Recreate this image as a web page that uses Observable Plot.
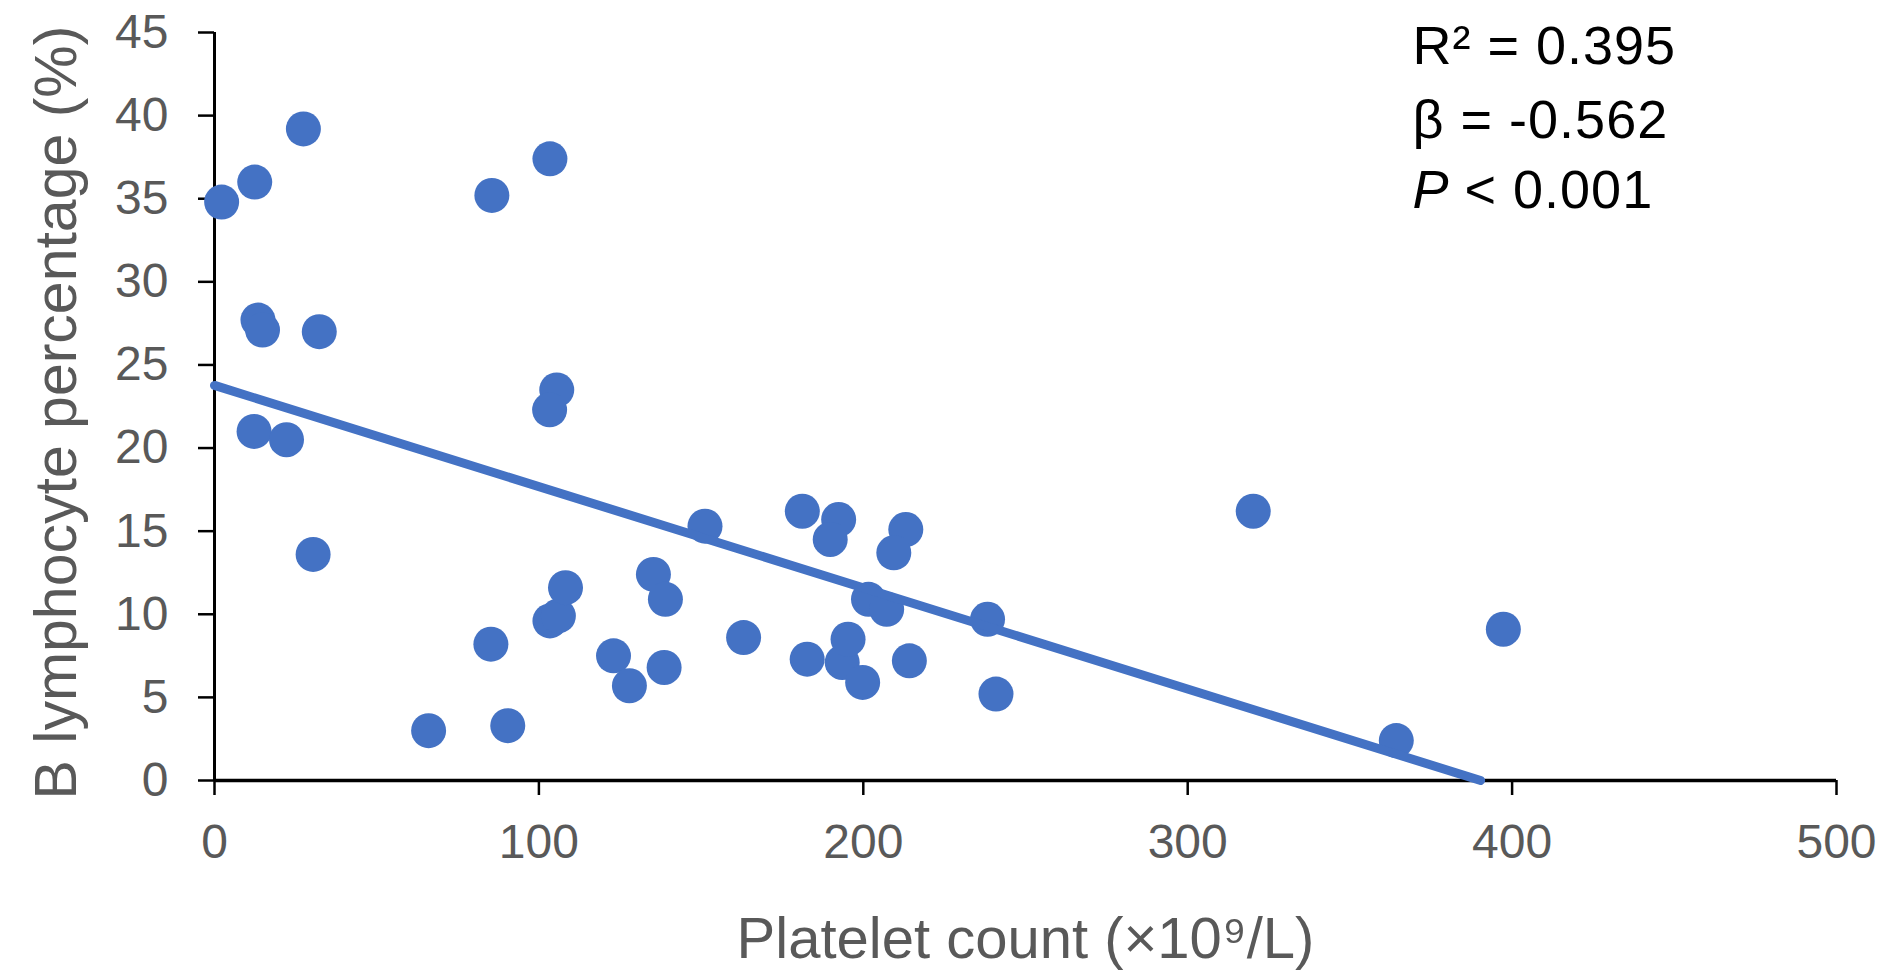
<!DOCTYPE html>
<html>
<head>
<meta charset="utf-8">
<script src="https://cdn.jsdelivr.net/npm/d3@7"></script>
<script src="https://cdn.jsdelivr.net/npm/@observablehq/plot@0.6"></script>
<style>
  html, body { margin: 0; padding: 0; background: #fff; }
</style>
</head>
<body>
<div id="chart"></div>
<script>
// ---- data ----
const platelet = [2.2, 12.4, 27.4, 85.5, 103.4, 13.4, 14.8, 32.3, 12.2, 22.2, 30.4, 105.5, 103.3,
  66, 85.2, 90.4, 103.4, 106, 108.2, 123, 127.9, 135.3, 139, 138.6, 151.2, 163.1, 181.2, 182.7,
  192.4, 189.8, 193.5, 195.3, 199.8, 201.6, 207.2, 213.1, 209.4, 214.2, 238.3, 240.9, 320.2, 397.3, 364.3];
const bPercent = [34.8, 36.0, 39.2, 35.2, 37.4, 27.7, 27.1, 27.0, 21.0, 20.5, 13.6, 23.5, 22.3,
  3.0, 8.2, 3.3, 9.6, 9.9, 11.6, 7.5, 5.7, 12.4, 10.9, 6.8, 15.3, 8.6, 16.2, 7.3,
  15.7, 14.5, 7.1, 8.5, 5.9, 10.9, 10.3, 15.1, 13.7, 7.2, 9.7, 5.2, 16.2, 9.1, 2.4];
const xTicks = [0, 100, 200, 300, 400, 500];
const yTicks = [0, 5, 10, 15, 20, 25, 30, 35, 40, 45];
const fitIntercept = 23.77;   // fitted value at x = 0
const fitXIntercept = 390.3;  // where the fitted line reaches 0
const xLabel = "Platelet count (×10⁹/L)";
const yLabel = "B lymphocyte percentage (%)";
const statR2 = "R² = 0.395";
const statBeta = "β = -0.562";
const pLabel = "P";
const pValue = "< 0.001";

const points = platelet.map((x, i) => ({x, y: bPercent[i]}));
const fit = [{x: 0, y: fitIntercept}, {x: fitXIntercept, y: 0}];

const blue = "#4472C4";
const grey = "#595959";
const font = "'Liberation Sans', Arial, sans-serif";
const statStyle = {frameAnchor: "top-left", textAnchor: "start", lineAnchor: "middle", fill: "#000", fontSize: 54};

const chart = Plot.plot({
  width: 1885,
  height: 971,
  marginLeft: 214,
  marginRight: 49,
  marginTop: 32,
  marginBottom: 191,
  style: {fontFamily: font, background: "#fff", overflow: "visible"},
  x: {domain: [0, 500]},
  y: {domain: [0, 45]},
  marks: [
    Plot.axisX({ticks: xTicks, tickSize: 15, tickPadding: 28, stroke: "#000", strokeWidth: 2.5,
      fill: grey, fontSize: 48, label: null}),
    Plot.axisY({ticks: yTicks, tickSize: 16, tickPadding: 30, stroke: "#000", strokeWidth: 2.5,
      fill: grey, fontSize: 48, label: null}),
    Plot.ruleY([0], {stroke: "#000", strokeWidth: 3.5}),
    Plot.ruleX([0], {stroke: "#000", strokeWidth: 3}),
    Plot.dot(points, {x: "x", y: "y", r: 17.5, fill: blue, stroke: "none"}),
    Plot.line(fit, {x: "x", y: "y", stroke: blue, strokeWidth: 9}),
    Plot.text([xLabel], {frameAnchor: "bottom", textAnchor: "middle", dy: 159, fill: grey, fontSize: 58, lineAnchor: "middle"}),
    Plot.text([yLabel], {frameAnchor: "left", textAnchor: "middle", dx: -157, dy: 6, rotate: -90, fill: grey, fontSize: 59, lineAnchor: "middle"}),
    Plot.text([statR2], {...statStyle, dx: 1198, dy: 14}),
    Plot.text([statBeta], {...statStyle, dx: 1198, dy: 88}),
    Plot.text([pLabel], {...statStyle, dx: 1198, dy: 158, fontStyle: "italic"}),
    Plot.text([pValue], {...statStyle, dx: 1250, dy: 158})
  ]
});

d3.select(chart).selectAll("text").each(function () {
  const t = this.textContent;
  if (t === statR2 || t === statBeta || t === pValue) this.setAttribute("letter-spacing", 1);
});
document.getElementById("chart").appendChild(chart);
</script>
</body>
</html>
